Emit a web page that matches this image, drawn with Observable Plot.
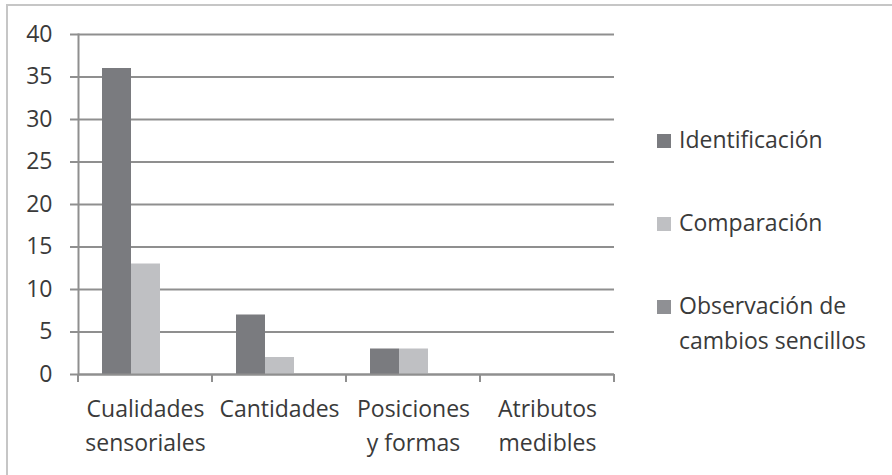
<!DOCTYPE html>
<html><head><meta charset="utf-8">
<script src="https://cdn.jsdelivr.net/npm/d3@7"></script>
<script src="https://cdn.jsdelivr.net/npm/@observablehq/plot@0.6"></script>
<style>
body{margin:0;background:#fff;}
#wrap{position:relative;width:892px;height:475px;overflow:hidden;font-family:"Open Sans",sans-serif;color:#3a3a3a;}
#frame{position:absolute;left:6px;top:4px;width:900px;height:480px;border-left:2px solid #c6c6c6;border-top:2px solid #c6c6c6;}
#chart{position:absolute;left:0;top:0;}
#legend{position:absolute;left:657px;top:122px;}
.item{display:flex;align-items:flex-start;margin-bottom:48px;}
.sw{width:14px;height:14px;margin-top:12px;margin-right:8px;flex:none;}
.lb{font-size:23px;line-height:35px;}
</style>
</head><body>
<div id="wrap"><div id="frame"></div><div id="chart"></div><div id="legend"></div></div>
<script>
const categories = ["Cualidades sensoriales","Cantidades","Posiciones y formas","Atributos medibles"];
const categoryLabels = ["Cualidades\nsensoriales","Cantidades","Posiciones\ny formas","Atributos\nmedibles"];
const series = ["Identificación","Comparación","Observación de cambios sencillos"];
const seriesLabels = ["Identificación","Comparación","Observación de<br>cambios sencillos"];
const identificacion = [36,7,3,0];
const comparacion = [13,2,3,0];
const observacion = [0,0,0,0];
const colors = ["#7a7b7f","#bfc0c3","#8f9094"];
const yTicks = [0,5,10,15,20,25,30,35,40];

const values = [identificacion, comparacion, observacion];
const rows = [];
categories.forEach((c,i)=>series.forEach((s,j)=>rows.push({category:c, series:s, value:values[j][i]})));
const labelOf = Object.fromEntries(categories.map((c,i)=>[c,categoryLabels[i]]));
const gridColor = "#8f8f8f";

const chart = Plot.plot({
  width:892, height:475,
  marginLeft:78, marginRight:278, marginTop:34, marginBottom:101,
  style:{fontFamily:"'Open Sans', sans-serif", fontSize:"23px", color:"#3a3a3a", background:"transparent"},
  fx:{domain:categories, paddingInner:0, paddingOuter:0, label:null},
  x:{domain:series, paddingInner:0, paddingOuter:0.75, axis:null},
  y:{domain:[0,40], label:null},
  color:{domain:series, range:colors},
  marks:[
    Plot.gridY(yTicks,{stroke:gridColor, strokeOpacity:1, strokeWidth:2}),
    Plot.barY(rows,{fx:"category", x:"series", y:"value", fill:"series"}),
    Plot.ruleY([0],{stroke:gridColor, strokeWidth:2}),
    Plot.frame({anchor:"left", facetAnchor:"left", stroke:gridColor, strokeWidth:2}),
    Plot.axisY(yTicks,{tickSize:8, tickPadding:18, stroke:gridColor, strokeWidth:2, strokeOpacity:1, fontSize:23, label:null}),
    Plot.axisFx({anchor:"bottom", tickSize:0, tickPadding:18, tickFormat:d=>labelOf[d], fontSize:23, lineHeight:1.48, label:null})
  ]
});
document.getElementById("chart").appendChild(chart);

// category boundary ticks from the fx scale
const fx = chart.scale("fx"), y = chart.scale("y");
const y0 = y.apply(0);
const bounds = categories.map(c=>fx.apply(c));
bounds.push(fx.apply(categories[categories.length-1]) + fx.bandwidth);
d3.select(chart).append("g").selectAll("line").data(bounds).join("line")
  .attr("x1",d=>d).attr("x2",d=>d).attr("y1",y0).attr("y2",y0+8)
  .attr("stroke",gridColor).attr("stroke-width",2);

const lg = document.getElementById("legend");
series.forEach((s,i)=>{
  const it = document.createElement("div"); it.className="item";
  it.innerHTML = `<div class="sw" style="background:${colors[i]}"></div><div class="lb">${seriesLabels[i]}</div>`;
  lg.appendChild(it);
});
</script>
</body></html>
